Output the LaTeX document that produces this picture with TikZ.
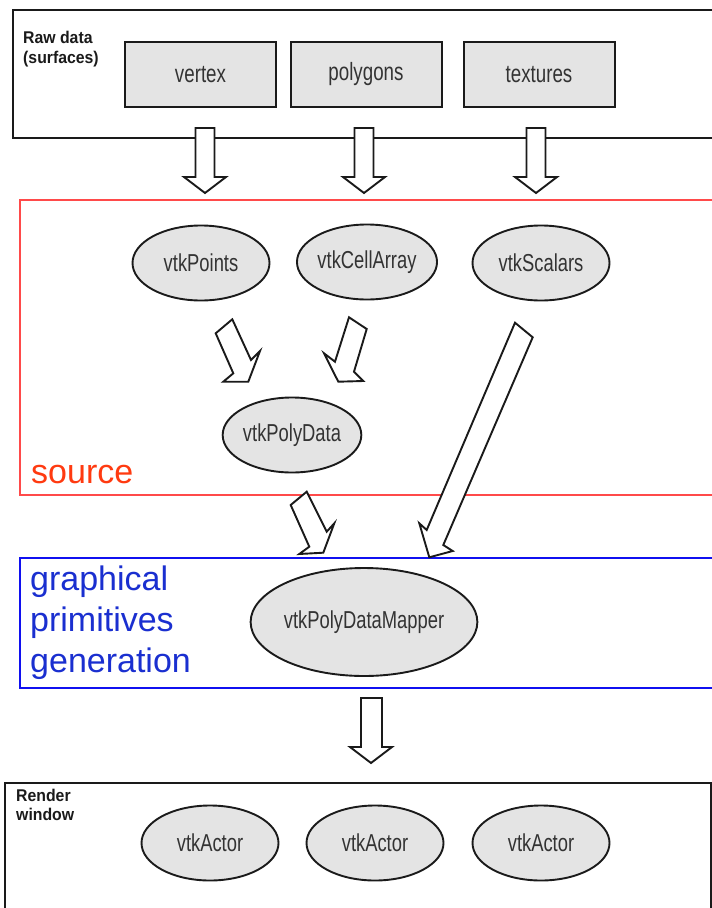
\documentclass[tikz,border=0pt]{standalone}
\usepackage{fontspec}
\setmainfont{Liberation Sans}
\newfontfamily\nfont[FakeStretch=0.75]{Liberation Sans}
\newfontfamily\lfont[FakeStretch=0.93]{Liberation Sans}
\usetikzlibrary{shapes.geometric}
\definecolor{boxgray}{HTML}{E4E4E4}
\definecolor{edgec}{HTML}{1A1A1A}
\definecolor{ntext}{HTML}{333333}
\definecolor{srcred}{HTML}{FF4A4A}
\definecolor{srctext}{HTML}{FF3A10}
\definecolor{gpblue}{HTML}{1010F0}
\definecolor{gptext}{HTML}{1A2FD0}
\tikzset{
  frame/.style={draw=edgec, line width=2},
  databox/.style={draw=edgec, line width=2, fill=boxgray, minimum width=151, minimum height=65, inner sep=0, text=ntext, font=\nfont\fontsize{25}{30}\selectfont},
  vtkobj/.style={ellipse, draw=edgec, line width=1.9, fill=boxgray, minimum width=137, minimum height=75, inner sep=0, text=ntext, font=\nfont\fontsize{24.5}{29}\selectfont},
  blk/.style={draw=edgec, line width=1.9, fill=white, line join=miter},
  smalllbl/.style={anchor=base west, inner sep=0, font=\lfont\bfseries\fontsize{17}{20}\selectfont, text=edgec},
  biglbl/.style={anchor=base west, inner sep=0, font=\fontsize{34}{41}\selectfont}
}
\begin{document}
\begin{tikzpicture}[x=1pt,y=-1pt]
\useasboundingbox (0,0) rectangle (712,908);
\fill[white] (0,0) rectangle (712,908);

% ---------- raw data ----------
\draw[frame] (13,10) rectangle (720,138);
\node[smalllbl] (raw1) at (23,43.3) {Raw data};
\node[smalllbl] (raw2) at (23,63) {(surfaces)};
\node[databox] (vertex) at (200.5,74.5) {vertex};
\node[databox] (polygons) at (366,74.5) {polygons};
\node[databox] (textures) at (539,74.5) {textures};

% ---------- source ----------
\draw[srcred, line width=1.4] (20,200) rectangle (720,495);
\node[biglbl, text=srctext] (srclbl) at (31,483) {source};
\node[vtkobj] (points) at (201,263) {vtkPoints};
\node[vtkobj] (cells) at (367,262) {vtkCellArray};
\node[vtkobj] (scalars) at (541,263) {vtkScalars};
\node[vtkobj] (polydata) at (292,435) {vtkPolyData};

% ---------- graphical primitives ----------
\draw[gpblue, line width=1.5] (20,558) rectangle (720,688);
\node[biglbl, text=gptext] (gp1) at (30,590) {graphical};
\node[biglbl, text=gptext] (gp2) at (30,631) {primitives};
\node[biglbl, text=gptext] (gp3) at (30,672) {generation};
\node[vtkobj, minimum width=190, minimum height=108] (mapper) at (364,622) {vtkPolyDataMapper};

% ---------- render window ----------
\draw[frame] (5,783) rectangle (710.5,920);
\node[smalllbl] (rw1) at (16,801) {Render};
\node[smalllbl] (rw2) at (16,820) {window};
\node[vtkobj] (actor1) at (210,843) {vtkActor};
\node[vtkobj] (actor2) at (375,843) {vtkActor};
\node[vtkobj] (actor3) at (541,843) {vtkActor};

% ---------- block arrows ----------
% raw data -> vtk objects
\draw[blk] (195.5,128) -- (214.5,128) -- (214.5,177) -- (226,177) -- (205,193) -- (184,177) -- (195.5,177) -- cycle;
\draw[blk] (354.5,128) -- (373.5,128) -- (373.5,177) -- (385,177) -- (364,193) -- (343,177) -- (354.5,177) -- cycle;
\draw[blk] (526.5,128) -- (545.5,128) -- (545.5,177) -- (557,177) -- (536,193) -- (515,177) -- (526.5,177) -- cycle;
% vtkPoints -> vtkPolyData
\draw[blk] (215.7,333.3) -- (232.3,319.3) -- (251,360) -- (260,351) -- (248.3,381.7) -- (223.3,381.7) -- (233.3,373.3) -- cycle;
% vtkCellArray -> vtkPolyData
\draw[blk] (349,317.3) -- (366.7,329) -- (354,371.7) -- (363.3,381) -- (338.3,381.7) -- (324,353.3) -- (335,361.7) -- cycle;
% vtkPolyData -> mapper
\draw[blk] (290.7,505) -- (306.7,491.7) -- (326.7,531.7) -- (334.3,523.3) -- (323.3,552.7) -- (299.3,554) -- (309.3,546.7) -- cycle;
% vtkScalars -> mapper
\draw[blk] (515,322.7) -- (532.7,337.3) -- (443.3,545) -- (452.7,551) -- (429.3,557.3) -- (419.3,523.3) -- (426.7,530) -- cycle;
% mapper -> actors
\draw[blk] (361,698) -- (382,698) -- (382,747) -- (392,747) -- (371,763) -- (350,747) -- (361,747) -- cycle;
\end{tikzpicture}
\end{document}
